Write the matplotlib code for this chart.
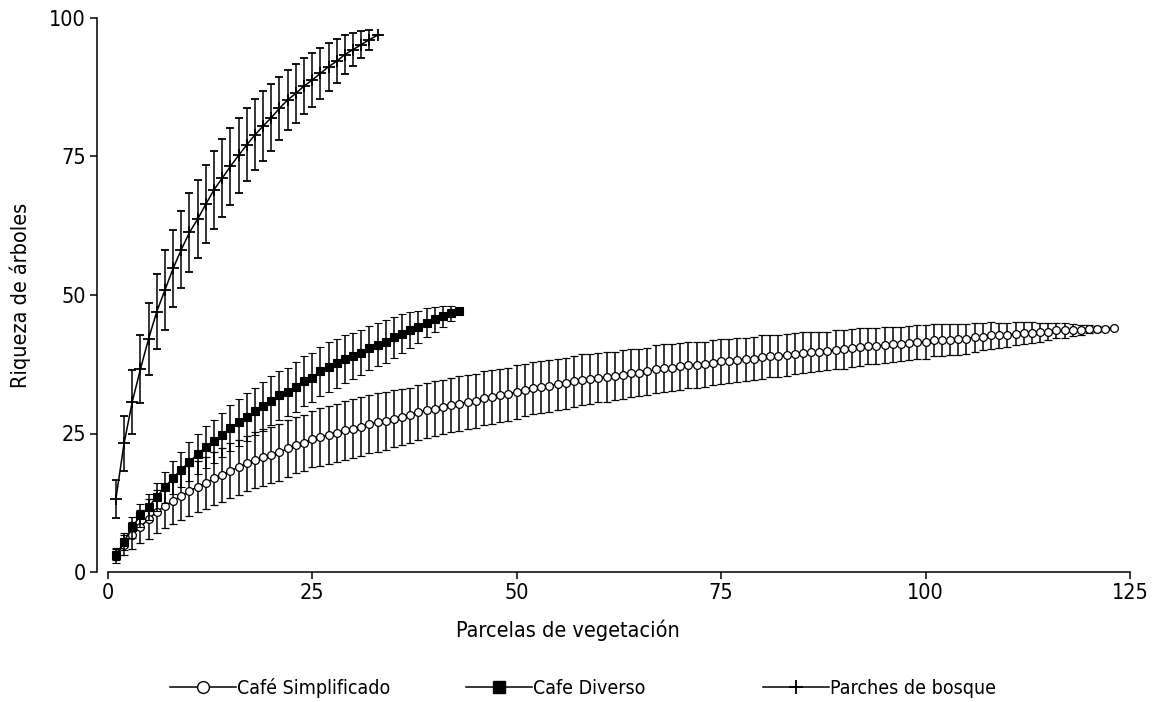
import matplotlib
matplotlib.use("Agg")
import matplotlib.pyplot as plt
from matplotlib.lines import Line2D
import numpy as np

plt.rcParams['font.family'] = ['DejaVu Sans']
plt.rcParams['font.stretch'] = 'condensed'

# ---- data ----
simp_mean = [3.1, 4.9, 6.6, 8.2, 9.5, 10.9, 11.9, 12.9, 13.7, 14.6,
             15.4, 16.1, 16.9, 17.5, 18.3, 18.9, 19.6, 20.2, 20.7, 21.1,
             21.6, 22.3, 22.9, 23.3, 24.0, 24.4, 24.7, 25.1, 25.6, 25.9,
             26.2, 26.7, 27.0, 27.3, 27.7, 28.0, 28.3, 28.8, 29.2, 29.5,
             29.8, 30.1, 30.4, 30.7, 30.9, 31.4, 31.6, 31.9, 32.1, 32.5,
             32.9, 33.2, 33.4, 33.6, 33.9, 34.1, 34.4, 34.7, 34.8, 35.1,
             35.2, 35.4, 35.6, 35.9, 36.0, 36.2, 36.6, 36.8, 36.9, 37.1,
             37.4, 37.4, 37.5, 37.8, 38.0, 38.1, 38.3, 38.4, 38.5, 38.8,
             39.0, 39.0, 39.2, 39.4, 39.6, 39.7, 39.8, 39.9, 40.1, 40.2,
             40.4, 40.6, 40.8, 40.8, 41.0, 41.1, 41.2, 41.3, 41.5, 41.5,
             41.8, 41.9, 41.9, 42.0, 42.1, 42.4, 42.5, 42.7, 42.7, 42.8,
             43.0, 43.1, 43.2, 43.3, 43.4, 43.6, 43.6, 43.7, 43.7, 43.8,
             43.9, 43.9, 44.1]
simp_sd = [1.0, 1.8, 2.5, 3.0, 3.6, 3.9, 4.0, 4.2, 4.3, 4.5,
           4.6, 4.7, 4.8, 4.9, 5.0, 5.0, 5.0, 5.1, 5.1, 5.1,
           5.1, 5.1, 5.1, 5.1, 5.1, 5.2, 5.2, 5.2, 5.3, 5.3,
           5.3, 5.3, 5.3, 5.2, 5.2, 5.1, 5.0, 5.0, 5.0, 4.9,
           4.9, 4.9, 4.9, 4.9, 4.9, 4.8, 4.8, 4.8, 4.8, 4.8,
           4.7, 4.7, 4.7, 4.7, 4.6, 4.6, 4.6, 4.6, 4.5, 4.5,
           4.5, 4.4, 4.4, 4.4, 4.3, 4.3, 4.3, 4.3, 4.2, 4.2,
           4.2, 4.1, 4.1, 4.1, 4.0, 4.0, 4.0, 3.9, 3.9, 3.9,
           3.8, 3.8, 3.8, 3.7, 3.7, 3.6, 3.6, 3.5, 3.5, 3.5,
           3.4, 3.4, 3.3, 3.3, 3.2, 3.2, 3.1, 3.1, 3.0, 3.0,
           2.9, 2.9, 2.8, 2.8, 2.7, 2.6, 2.5, 2.4, 2.3, 2.2,
           2.1, 2.0, 1.9, 1.7, 1.6, 1.4, 1.3, 1.1, 0.9, 0.7,
           0.5, 0.3, 0.0]

div_mean = [3.0, 5.5, 8.1, 10.2, 11.7, 13.6, 15.3, 17.0, 18.5, 19.9,
            21.3, 22.6, 23.6, 24.7, 26.0, 27.0, 28.0, 29.0, 29.9, 30.9,
            31.9, 32.5, 33.4, 34.4, 35.1, 36.2, 37.0, 37.7, 38.4, 39.0,
            39.6, 40.4, 41.0, 41.6, 42.4, 43.0, 43.7, 44.3, 45.0, 45.6,
            46.2, 46.7, 47.2]
div_sd = [1.3, 1.6, 1.9, 2.1, 2.3, 2.5, 2.8, 3.0, 3.2, 3.5,
          3.6, 3.8, 3.9, 4.0, 4.1, 4.2, 4.3, 4.3, 4.4, 4.4,
          4.4, 4.4, 4.5, 4.5, 4.5, 4.5, 4.5, 4.4, 4.3, 4.2,
          4.1, 4.0, 3.9, 3.8, 3.7, 3.5, 3.2, 2.9, 2.6, 2.3,
          1.9, 1.4, 0.0]

bos_mean = [13.2, 23.2, 30.7, 36.6, 42.1, 47.0, 50.9, 54.8, 58.2, 61.3,
            63.7, 66.4, 69.0, 71.1, 73.2, 75.2, 77.1, 78.9, 80.5, 82.0,
            83.7, 85.2, 86.4, 87.7, 88.8, 90.0, 91.2, 92.2, 93.4, 94.3,
            95.2, 96.1, 96.9]
bos_sd = [3.4, 5.0, 5.7, 6.1, 6.5, 6.8, 7.2, 7.0, 7.0, 7.1,
          7.1, 7.1, 7.0, 7.0, 6.9, 6.8, 6.6, 6.4, 6.3, 6.0,
          5.7, 5.4, 5.3, 5.1, 4.9, 4.6, 4.3, 4.0, 3.5, 3.0,
          2.5, 1.8, 0.0]

labels = ["Café Simplificado", "Cafe Diverso", "Parches de bosque"]
xticks = [0, 25, 50, 75, 100, 125]
yticks = [0, 25, 50, 75, 100]

W, H = 1162, 702
fig = plt.figure(figsize=(W / 100, H / 100), dpi=100)
ax = fig.add_axes([107.7 / W, 1 - 572 / H, (1130 - 107.7) / W, (572 - 18) / H])

lw = 1.1
common = dict(color='black', lw=lw, elinewidth=lw, capthick=lw, capsize=3.0)

x1 = np.arange(1, len(simp_mean) + 1)
ax.errorbar(x1, simp_mean, yerr=simp_sd, marker='o', ms=5.6, mfc='white',
            mec='black', mew=0.9, zorder=3, **common)
x2 = np.arange(1, len(div_mean) + 1)
ax.errorbar(x2, div_mean, yerr=div_sd, marker='s', ms=5.8, mfc='black',
            mec='black', mew=0.8, zorder=4, **common)
x3 = np.arange(1, len(bos_mean) + 1)
ax.errorbar(x3, bos_mean, yerr=bos_sd, marker='+', ms=8, mec='black',
            mew=1.3, zorder=5, **common)

ax.set_xlim(0, 125)
ax.set_ylim(0, 100)
ax.set_xticks(xticks)
ax.set_yticks(yticks)
ax.set_xticklabels([str(v) for v in xticks])
ax.set_yticklabels([str(v) for v in yticks])
for s in ['top', 'right']:
    ax.spines[s].set_visible(False)
ax.spines['left'].set_position(('outward', 7.7))
for s in ['left', 'bottom']:
    ax.spines[s].set_linewidth(1.1)
ax.tick_params(direction='out', length=5, width=1.1, labelsize=15.5, pad=3)

fig.text(568 / W, 1 - 630 / H, "Parcelas de vegetación", ha='center',
         va='center', fontsize=15.5)
fig.text(20 / W, 1 - 295 / H, "Riqueza de árboles", ha='center',
         va='center', rotation=90, fontsize=15.5)

handles = [
    Line2D([], [], color='black', lw=lw, marker='o', ms=8.5, mfc='white',
           mec='black', mew=1.0),
    Line2D([], [], color='black', lw=lw, marker='s', ms=9, mfc='black',
           mec='black'),
    Line2D([], [], color='black', lw=lw, marker='+', ms=10, mew=1.3),
]
leg_x = [170, 466, 763]
for h, lab, lx in zip(handles, labels, leg_x):
    fig.legend(handles=[h], labels=[lab], loc='center left',
               bbox_to_anchor=(lx / W, 1 - 688 / H), frameon=False,
               fontsize=14, handlelength=3.4, handletextpad=0.05,
               borderpad=0, borderaxespad=0)

fig.savefig("out.png", dpi=100)
